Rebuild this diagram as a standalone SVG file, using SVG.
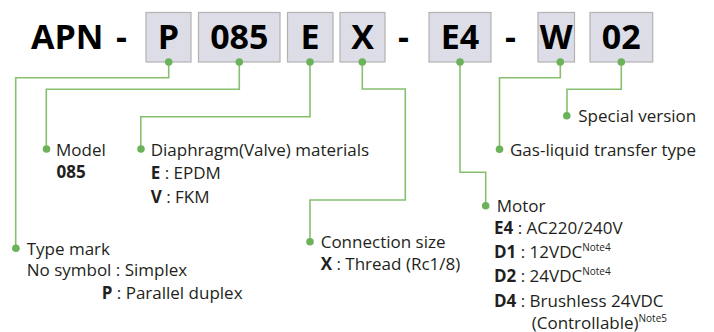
<svg xmlns="http://www.w3.org/2000/svg" width="714" height="332" viewBox="0 0 714 332">
<style>
.box{fill:#dcdde6;stroke:#b3b3b3;stroke-width:1.2}
.big{font-family:"Open Sans","DejaVu Sans",sans-serif;font-weight:bold;font-size:34px;fill:#000}
.lbl{font-family:"Open Sans","DejaVu Sans",sans-serif;font-size:17px;fill:#231f20}
.b{font-weight:bold}
.sup{font-size:10px}
.wire{fill:none;stroke:#86c06f;stroke-width:1.6}
.dot{fill:#6cb25a}
</style>
<rect width="714" height="332" fill="#fff"/>
<g id="title">
<text class="big" x="31" y="49">APN</text>
<text class="big" x="116" y="49">-</text>
<text class="big" x="398" y="49">-</text>
<text class="big" x="505" y="49">-</text>
</g>
<g id="node-P"><rect class="box" x="146" y="12.5" width="45" height="49.5"/><text class="big" x="168.5" y="49" text-anchor="middle">P</text></g>
<g id="node-085"><rect class="box" x="198.5" y="12.5" width="81.5" height="49.5"/><text class="big" x="239.3" y="49" text-anchor="middle">085</text></g>
<g id="node-E"><rect class="box" x="287.5" y="12.5" width="45.5" height="49.5"/><text class="big" x="310" y="49" text-anchor="middle">E</text></g>
<g id="node-X"><rect class="box" x="340" y="12.5" width="45" height="49.5"/><text class="big" x="362.5" y="49" text-anchor="middle">X</text></g>
<g id="node-E4"><rect class="box" x="429" y="12.5" width="62" height="49.5"/><text class="big" x="460" y="49" text-anchor="middle">E4</text></g>
<g id="node-W"><rect class="box" x="538" y="12.5" width="36.5" height="49.5"/><text class="big" x="556.3" y="49" text-anchor="middle">W</text></g>
<g id="node-02"><rect class="box" x="590" y="12.5" width="62.7" height="49.5"/><text class="big" x="621.3" y="49" text-anchor="middle">02</text></g>
<g id="connectors">
<polyline class="wire" points="168.7,62 168.7,77.7 15.7,77.7 15.7,248.3"/>
<polyline class="wire" points="239.3,62 239.3,89.3 46.3,89.3 46.3,149"/>
<polyline class="wire" points="310,62 310,116.7 140.8,116.7 140.8,149"/>
<polyline class="wire" points="362.3,62 362.3,89 405.3,89 405.3,200 310,200 310,241.7"/>
<polyline class="wire" points="460,62 460,172.3 485.7,172.3 485.7,205.7"/>
<polyline class="wire" points="560.3,62 560.3,77.7 499.5,77.7 499.5,149.3"/>
<polyline class="wire" points="621.3,62 621.3,89.3 567,89.3 567,115.7"/>
<circle class="dot" cx="168.7" cy="62" r="3.8"/>
<circle class="dot" cx="239.3" cy="62" r="3.8"/>
<circle class="dot" cx="310" cy="62" r="3.8"/>
<circle class="dot" cx="362.3" cy="62" r="3.8"/>
<circle class="dot" cx="460" cy="62" r="3.8"/>
<circle class="dot" cx="560.3" cy="62" r="3.8"/>
<circle class="dot" cx="621.3" cy="62" r="3.8"/>
<circle class="dot" cx="15.9" cy="248.3" r="3.8"/>
<circle class="dot" cx="46.5" cy="149" r="3.8"/>
<circle class="dot" cx="141" cy="149" r="3.8"/>
<circle class="dot" cx="310" cy="241.7" r="3.8"/>
<circle class="dot" cx="485.7" cy="205.7" r="3.8"/>
<circle class="dot" cx="499.5" cy="149.3" r="3.8"/>
<circle class="dot" cx="566.8" cy="115.7" r="3.8"/>
</g>
<g id="label-type">
<text class="lbl" x="26.7" y="255">Type mark</text>
<text class="lbl" x="26.7" y="275.7">No symbol : Simplex</text>
<text class="lbl" x="101.7" y="299.3"><tspan class="b">P</tspan> : Parallel duplex</text>
</g>
<g id="label-model">
<text class="lbl" x="56" y="156">Model</text>
<text class="lbl b" x="56.5" y="178.3">085</text>
</g>
<g id="label-diaphragm">
<text class="lbl" x="150.7" y="156">Diaphragm(Valve) materials</text>
<text class="lbl" x="150.7" y="179"><tspan class="b">E</tspan> : EPDM</text>
<text class="lbl" x="150.7" y="202.7"><tspan class="b">V</tspan> : FKM</text>
</g>
<g id="label-connection">
<text class="lbl" x="320.7" y="247.7">Connection size</text>
<text class="lbl" x="320.7" y="270"><tspan class="b">X</tspan> : Thread (Rc1/8)</text>
</g>
<g id="label-motor">
<text class="lbl" x="496.7" y="212.3">Motor</text>
<text class="lbl" x="494" y="234.3"><tspan class="b">E4</tspan> : AC220/240V</text>
<text class="lbl" x="494" y="258.3"><tspan class="b">D1</tspan> : 12VDC<tspan class="sup" dy="-7">Note4</tspan></text>
<text class="lbl" x="494" y="282.3"><tspan class="b">D2</tspan> : 24VDC<tspan class="sup" dy="-7">Note4</tspan></text>
<text class="lbl" x="494" y="306.7"><tspan class="b">D4</tspan> : Brushless 24VDC</text>
<text class="lbl" x="531.7" y="328.5">(Controllable)<tspan class="sup" dy="-7">Note5</tspan></text>
</g>
<g id="label-gas">
<text class="lbl" x="510" y="155.7">Gas-liquid transfer type</text>
</g>
<g id="label-special">
<text class="lbl" x="578.3" y="122.3">Special version</text>
</g>
</svg>
